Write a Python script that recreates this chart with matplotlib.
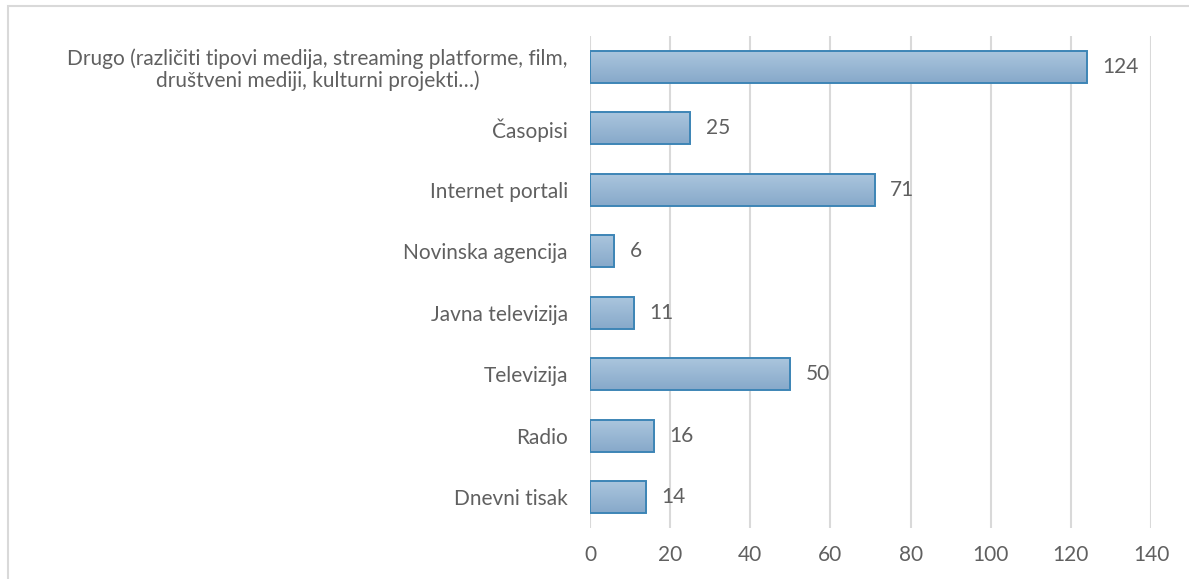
import matplotlib.pyplot as plt
import matplotlib.patches as patches
import numpy as np
from matplotlib.colors import LinearSegmentedColormap

# Kategorije (od dna prema vrhu) i vrijednosti
categories = [
    "Dnevni tisak",
    "Radio",
    "Televizija",
    "Javna televizija",
    "Novinska agencija",
    "Internet portali",
    "Časopisi",
    "Drugo (različiti tipovi medija, streaming platforme, film,\ndruštveni mediji, kulturni projekti…)",
]
values = [14, 16, 50, 11, 6, 71, 25, 124]
x_ticks = [0, 20, 40, 60, 80, 100, 120, 140]

TEXT = "#606060"
GRID = "#d9d9d9"
EDGE = "#3d85b6"
BAR_H = 0.52

plt.rcParams['font.family'] = ['Lato', 'DejaVu Sans']

fig = plt.figure(figsize=(11.89, 5.79), dpi=100)
ax = fig.add_axes([590 / 1189, 1 - 528 / 579, (1151 - 590) / 1189, (528 - 36) / 579])

# Gradijent za stupce (svjetlije gore, tamnije dolje)
cmap = LinearSegmentedColormap.from_list("bar", ["#87a9ca", "#aac5dd"])
grad = np.linspace(0, 1, 64).reshape(-1, 1)

ypos = np.arange(len(categories))
bars = ax.barh(ypos, values, height=BAR_H, color="none", edgecolor=EDGE, linewidth=1.4, zorder=3)
for bar in bars:
    x0, y0 = bar.get_x(), bar.get_y()
    w, h = bar.get_width(), bar.get_height()
    im = ax.imshow(grad, cmap=cmap, aspect='auto', origin='lower',
                   extent=[x0, x0 + w, y0, y0 + h], zorder=2)
    im.set_clip_path(patches.Rectangle((x0, y0), w, h, transform=ax.transData))

# Oznake vrijednosti
for y, v in zip(ypos, values):
    ax.text(v + 3.9, y, str(v), ha='left', va='center', fontsize=15, color=TEXT, zorder=4)

ax.set_xlim(0, 140)
ax.set_ylim(-0.5, len(categories) - 0.5)
ax.set_xticks(x_ticks)
ax.set_xticklabels([str(t) for t in x_ticks])
ax.set_yticks(ypos)
ax.set_yticklabels(categories, multialignment='center', linespacing=1.1)
ax.tick_params(axis='both', length=0, labelsize=15, labelcolor=TEXT)
ax.tick_params(axis='y', pad=16)
ax.tick_params(axis='x', pad=12)

ax.grid(axis='x', color=GRID, linewidth=1.5, zorder=0)
ax.set_axisbelow(True)
for s in ax.spines.values():
    s.set_visible(False)

# Okvir grafikona
fig.patches.append(patches.Rectangle((8 / 1189, -0.01), 1.02, 1 - 6 / 579 + 0.01,
                                     transform=fig.transFigure, fill=False,
                                     edgecolor=GRID, linewidth=1.5))

fig.savefig("out.png", dpi=100)
